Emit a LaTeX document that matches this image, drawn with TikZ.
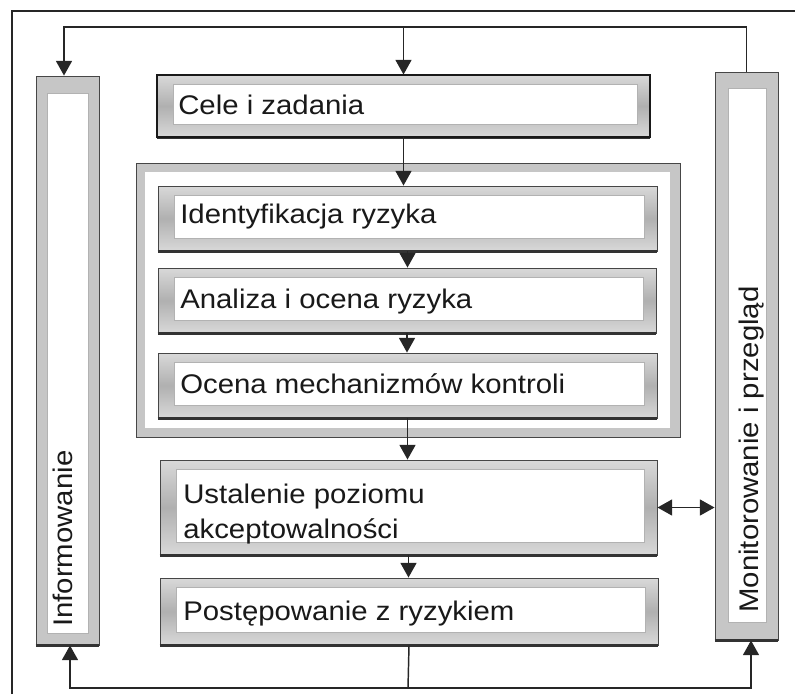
\documentclass[tikz,border=0pt]{standalone}
\usepackage{fontspec}
\setmainfont[FakeStretch=1.09]{Liberation Sans}
\usetikzlibrary{arrows.meta,fit}
\newcommand\procbox[5]{%
  \node[pframe, fit={(#2,#3) (#4,#5)}] (#1) {};
  \node[pinner, fit={(#2+16,#3+9) (#4-13,#5-13)}] (#1in) {};
  \draw[shadowline] (#1.south west) -- (#1.south east);
}
\begin{document}
\begin{tikzpicture}[x=0.75pt,y=-0.75pt,
  pframe/.style={draw=gray!55!black, line width=0.7pt, inner sep=0pt,
     top color=gray!30, bottom color=gray!30, middle color=gray!62},
  pinner/.style={fill=white, draw=gray!60, line width=0.4pt, inner sep=0pt},
  sframe/.style={draw=gray!55!black, line width=0.7pt, inner sep=0pt, fill=gray!45},
  shadowline/.style={draw=gray!40!black, line width=1.6pt},
  lbl/.style={anchor=base west, inner sep=0pt, font=\fontsize{20.2pt}{26pt}\selectfont, text=black!90},
  conn/.style={draw=black!85, line width=1.1pt},
  arr/.style={conn, -{Triangle[width=12pt,length=11pt]}},
  darr/.style={conn, {Triangle[width=12pt,length=11pt]}-{Triangle[width=12pt,length=11pt]}}
]
\useasboundingbox (0,0) rectangle (795,694);

% outer frame (top and left edges only)
\draw[draw=black!85, line width=1.5pt] (12,694) -- (12,11) -- (796,11);

% side boxes
\node[sframe, fit={(36,76) (99,645)}] (inform) {};
\node[pinner, fit={(47,93) (88,633)}] (informin) {};
\draw[shadowline] (inform.south west) -- (inform.south east);
\node[sframe, fit={(715,72) (778,640)}] (monit) {};
\node[pinner, fit={(728,88) (766,622)}] (monitin) {};
\draw[shadowline] (monit.south west) -- (monit.south east);
\node[lbl, rotate=90] (tinform) at (72,627) {Informowanie};
\node[lbl, rotate=90] (tmonit) at (758,613) {Monitorowanie i przegląd};

% group frame
\node[sframe, fit={(136,163) (680,437)}] (group) {};
\node[pinner, draw=none, fit={(145,172) (670,428)}] (groupin) {};

% process boxes
\procbox{cele}{157}{75}{650}{137}
\draw[draw=black!90, line width=1.5pt] (cele.south west) rectangle (cele.north east);
\procbox{ident}{158}{186}{657}{251}
\procbox{anal}{158}{268}{656}{333}
\procbox{ocena}{158}{353}{657}{418}
\procbox{ustal}{160}{460}{657}{555}
\procbox{post}{160}{578}{658}{645}

\node[lbl] (tcele) at (178,114) {Cele i zadania};
\node[lbl] (tident) at (180,223) {Identyfikacja ryzyka};
\node[lbl] (tanal) at (180,308) {Analiza i ocena ryzyka};
\node[lbl] (tocena) at (180,393) {Ocena mechanizmów kontroli};
\node[lbl] (tustal1) at (183,503) {Ustalenie poziomu};
\node[lbl] (tustal2) at (183,538) {akceptowalności};
\node[lbl] (tpost) at (183,620) {Postępowanie z ryzykiem};

% top feedback loop
\coordinate (tl) at (64,27);
\coordinate (tm) at (cele.north |- tl);
\coordinate (tr) at (monit.north |- tl);
\draw[arr] (monit.north) -- (tr) -- (tl) -- (tl |- inform.north);
\draw[arr] (tm) -- (cele.north);

% main chain
\draw[arr] (cele.south) -- (cele.south |- ident.north);
\draw[arr] (ident.south) -- (ident.south |- anal.north);
\draw[arr] (anal.south) -- (anal.south |- ocena.north);
\draw[arr] (ocena.south) -- (ocena.south |- ustal.north);
\draw[arr] (ustal.south) -- (ustal.south |- post.north);
\draw[darr] (ustal.east) -- (ustal.east -| monit.west);

% bottom feedback loop
\coordinate (bm) at (408,688);
\coordinate (bl) at (70,688);
\coordinate (br) at (751,688);
\draw[conn] (post.south) -- (bm);
\draw[arr] (bm) -- (bl) -- (bl |- inform.south);
\draw[arr] (bm) -- (br) -- (br |- monit.south);
\end{tikzpicture}
\end{document}
